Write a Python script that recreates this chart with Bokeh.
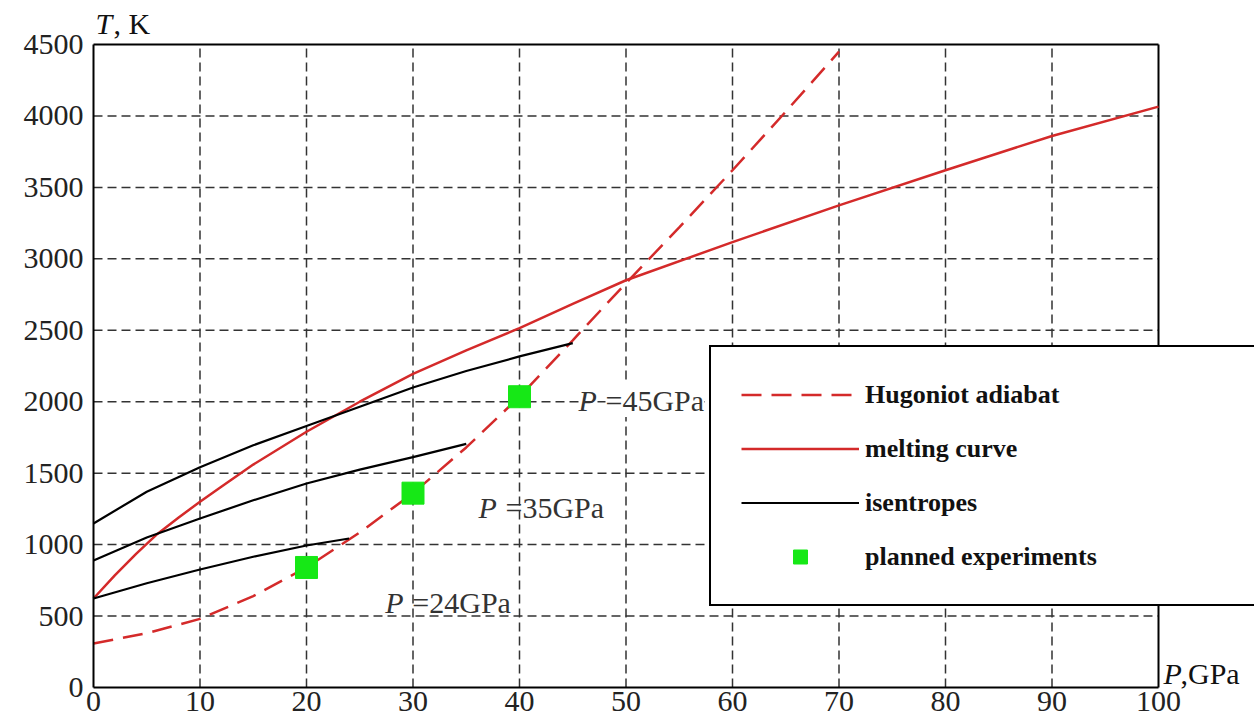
from bokeh.plotting import figure
from bokeh.models import Legend, LegendItem, Label, FixedTicker, Range1d
from bokeh.embed import file_html
from bokeh.resources import INLINE

# ---- data ----
melt_p = [0, 2, 4, 6, 8, 10, 12, 15, 20, 25, 30, 35, 40, 45, 50, 60, 70, 80, 90, 100]
melt_t = [623, 785, 935, 1075, 1190, 1300, 1405, 1560, 1790, 2000, 2195, 2360, 2515, 2685, 2850, 3117, 3374, 3620, 3860, 4065]

hug_p = [0, 5, 10, 15, 20, 25, 30, 35, 40, 45, 50, 55, 60, 65, 70]
hug_t = [308, 380, 480, 640, 840, 1085, 1360, 1680, 2035, 2430, 2830, 3220, 3620, 4030, 4450]

isen24_p = [0, 5, 10, 15, 20, 24]
isen24_t = [623, 730, 826, 915, 994, 1043]
isen35_p = [0, 5, 10, 15, 20, 25, 30, 35]
isen35_t = [889, 1050, 1183, 1310, 1428, 1525, 1612, 1705]
isen45_p = [0, 5, 10, 15, 20, 25, 30, 35, 40, 45]
isen45_t = [1148, 1370, 1542, 1695, 1830, 1965, 2100, 2215, 2317, 2410]

exp_p = [20, 30, 40]
exp_t = [840, 1360, 2035]

x_ticks = [0, 10, 20, 30, 40, 50, 60, 70, 80, 90, 100]
y_ticks = [0, 500, 1000, 1500, 2000, 2500, 3000, 3500, 4000, 4500]

isen_labels = ["=24GPa", "=35GPa", "=45GPa"]
isen_label_pos = [(27.4, 525), (36.15, 1190), (45.54, 1939)]

legend_names = ["Hugoniot adiabat", "melting curve", "isentropes", "planned experiments"]

# ---- layout / styles ----
W, H = 1254, 723
PX_L, PX_R, PX_T, PX_B = 93, 1158, 44, 687   # where the axis box sits on the canvas
FONT = "Liberation Serif"
RED = "#d42a2a"
GREEN = "#16e816"
DY = 10  # baseline correction for labels

x0, x1 = x_ticks[0], x_ticks[-1]
y0, y1 = y_ticks[0], y_ticks[-1]
sx = (PX_R - PX_L) / (x1 - x0)
sy = (PX_B - PX_T) / (y1 - y0)
x_range = Range1d(x0 - PX_L / sx, x1 + (W - PX_R) / sx)
y_range = Range1d(y0 - (H - PX_B) / sy, y1 + PX_T / sy)

p = figure(width=W, height=H, x_range=x_range, y_range=y_range,
           output_backend="svg", toolbar_location=None,
           min_border=0, min_border_left=0, min_border_right=0,
           min_border_top=0, min_border_bottom=0)
p.background_fill_color = "white"
p.border_fill_color = "white"
p.outline_line_color = None
p.grid.visible = False

for ax in (p.xaxis, p.yaxis):
    ax.fixed_location = 0
    ax.axis_line_color = "black"
    ax.axis_line_width = 2
    ax.major_tick_in = 0
    ax.major_tick_out = 0
    ax.minor_tick_line_color = None
    ax.major_label_text_font = FONT
    ax.major_label_text_font_size = "30px"
    ax.major_label_text_color = "#222222"
p.xaxis.ticker = FixedTicker(ticks=x_ticks)
p.yaxis.ticker = FixedTicker(ticks=y_ticks)
p.xaxis.bounds = (x0, x1)
p.yaxis.bounds = (y0, y1)
p.xaxis.major_label_standoff = 4
p.yaxis.major_label_standoff = 10

# dashed grid, limited to the axis box
p.segment(x0=x_ticks[1:-1], y0=[y0] * (len(x_ticks) - 2), x1=x_ticks[1:-1], y1=[y1] * (len(x_ticks) - 2),
          line_color="#333333", line_width=1.5, line_dash="9 5")
p.segment(x0=[x0] * (len(y_ticks) - 2), y0=y_ticks[1:-1], x1=[x1] * (len(y_ticks) - 2), y1=y_ticks[1:-1],
          line_color="#333333", line_width=1.5, line_dash="9 5")
# top and right edges of the box
p.segment(x0=[x0, x1], y0=[y1, y0], x1=[x1, x1], y1=[y1, y1], line_color="black", line_width=2)

r_hug = p.line(hug_p, hug_t, line_color=RED, line_width=2.5, line_dash="20 10")
r_melt = p.line(melt_p, melt_t, line_color=RED, line_width=2.5)
r_i1 = p.line(isen24_p, isen24_t, line_color="black", line_width=2.2)
r_i2 = p.line(isen35_p, isen35_t, line_color="black", line_width=2.2)
r_i3 = p.line(isen45_p, isen45_t, line_color="black", line_width=2.2)
r_exp = p.scatter(exp_p, exp_t, marker="square", size=22, fill_color=GREEN, line_color=GREEN)

# isentrope labels
for i, (txt, (lx, ly)) in enumerate(zip(isen_labels, isen_label_pos)):
    bg = "white" if i == len(isen_labels) - 1 else None
    p.add_layout(Label(x=lx, y=ly, x_offset=27, y_offset=DY, text=txt, text_font=FONT,
                       text_font_size="30px", text_color="#333333", text_baseline="alphabetic",
                       background_fill_color=bg))
    p.add_layout(Label(x=lx, y=ly, y_offset=DY, text="P", text_font=FONT, text_font_style="italic",
                       text_font_size="30px", text_color="#333333", text_baseline="alphabetic"))

# axis titles
p.add_layout(Label(x=x0, y=y1, x_offset=2, y_offset=11 + DY, text="T", text_font=FONT,
                   text_font_style="italic", text_font_size="30px", text_color="#111111",
                   text_baseline="alphabetic"))
p.add_layout(Label(x=x0, y=y1, x_offset=20, y_offset=11 + DY, text=", K", text_font=FONT,
                   text_font_size="30px", text_color="#111111", text_baseline="alphabetic"))
p.add_layout(Label(x=x1, y=y0, x_offset=5, y_offset=4 + DY, text="P", text_font=FONT,
                   text_font_style="italic", text_font_size="30px", text_color="#111111",
                   text_baseline="alphabetic"))
p.add_layout(Label(x=x1, y=y0, x_offset=22, y_offset=4 + DY, text=",GPa", text_font=FONT,
                   text_font_size="30px", text_color="#111111", text_baseline="alphabetic"))

legend = Legend(items=[LegendItem(label=legend_names[0], renderers=[r_hug]),
                       LegendItem(label=legend_names[1], renderers=[r_melt]),
                       LegendItem(label=legend_names[2], renderers=[r_i1]),
                       LegendItem(label=legend_names[3], renderers=[r_exp])],
                location=(709, H - 606))
legend.padding = 30
legend.spacing = 19
legend.margin = 0
legend.glyph_width = 118
legend.glyph_height = 35
legend.label_height = 35
legend.label_width = 400
legend.label_standoff = 6
legend.label_text_font = FONT
legend.label_text_font_style = "bold"
legend.label_text_font_size = "26px"
legend.label_text_color = "#111111"
legend.border_line_color = "black"
legend.border_line_alpha = 1
legend.border_line_width = 2.5
legend.background_fill_color = "white"
legend.background_fill_alpha = 1
p.add_layout(legend)

open("out.html", "w").write(file_html(p, INLINE))
